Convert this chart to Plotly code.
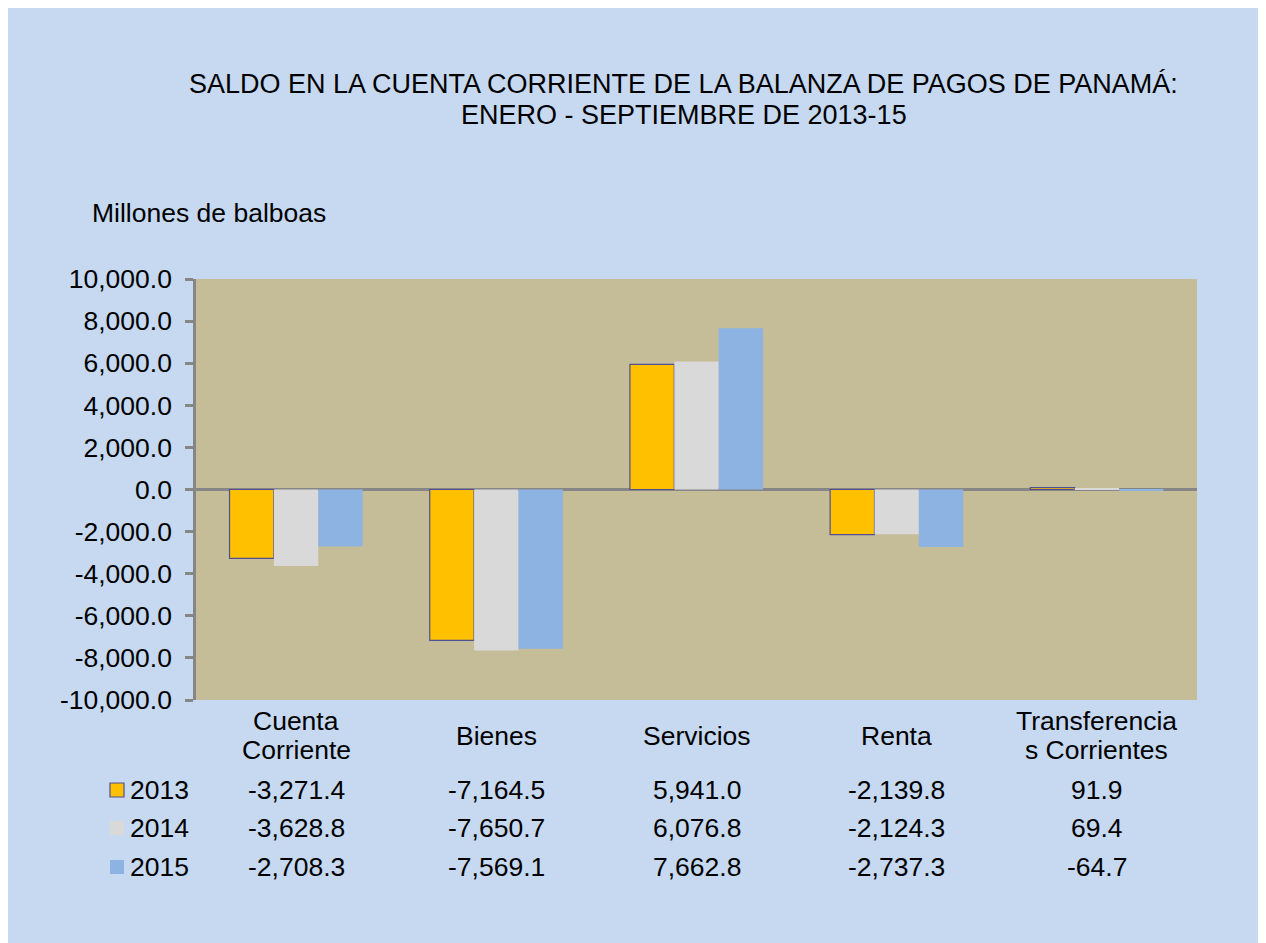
import plotly.graph_objects as go

categories = ["Cuenta Corriente", "Bienes", "Servicios", "Renta", "Transferencias Corrientes"]
category_lines = [["Cuenta", "Corriente"], ["Bienes"], ["Servicios"], ["Renta"], ["Transferencia", "s Corrientes"]]
years = ["2013", "2014", "2015"]
values_2013 = [-3271.4, -7164.5, 5941.0, -2139.8, 91.9]
values_2014 = [-3628.8, -7650.7, 6076.8, -2124.3, 69.4]
values_2015 = [-2708.3, -7569.1, 7662.8, -2737.3, -64.7]
series = [values_2013, values_2014, values_2015]
y_ticks = [-10000, -8000, -6000, -4000, -2000, 0, 2000, 4000, 6000, 8000, 10000]

colors = ["#FFC000", "#D9D9D9", "#8DB3E2"]
outlines = ["#4F4F96", None, None]

FONT = "Liberation Sans, Arial, sans-serif"
FS = 26.5
FS_TITLE = 27
PLOT_H = 421.0
PLOT_W = 1001.0
ML, MT = 188, 271


def px(fx):
    return (fx - ML) / PLOT_W


def py(fy):
    return 1 - (fy - MT) / PLOT_H


fig = go.Figure()
for yr, vals, c, oc in zip(years, series, colors, outlines):
    fig.add_trace(go.Bar(
        name=yr, x=categories, y=vals,
        marker=dict(color=c, line=dict(color=oc or "rgba(0,0,0,0)", width=1.2 if oc else 0)),
        showlegend=False,
    ))

annotations = []
annotations.append(dict(text="SALDO EN LA CUENTA CORRIENTE DE LA BALANZA DE PAGOS DE PANAMÁ:",
                        xref="paper", yref="paper", x=px(675.5), y=py(76),
                        xanchor="center", yanchor="middle", showarrow=False,
                        font=dict(size=FS_TITLE, color="#000000", family=FONT)))
annotations.append(dict(text="ENERO - SEPTIEMBRE DE 2013-15",
                        xref="paper", yref="paper", x=px(675.5), y=py(107),
                        xanchor="center", yanchor="middle", showarrow=False,
                        font=dict(size=FS_TITLE, color="#000000", family=FONT)))
annotations.append(dict(text="Millones de balboas",
                        xref="paper", yref="paper", x=px(82), y=py(205),
                        xanchor="left", yanchor="middle", showarrow=False,
                        font=dict(size=FS, color="#000000", family=FONT)))

for cat, lines in zip(categories, category_lines):
    ys = [728] if len(lines) == 1 else [713, 742]
    for ln, fy in zip(lines, ys):
        annotations.append(dict(text=ln, xref="x", yref="paper", x=cat, y=py(fy),
                                xanchor="center", yanchor="middle", showarrow=False,
                                font=dict(size=FS, color="#000000", family=FONT)))

row_y = [782, 820, 859]
shapes = []
for yr, vals, c, oc, fy in zip(years, series, colors, outlines, row_y):
    ry = py(fy)
    for cat, v in zip(categories, vals):
        annotations.append(dict(text=f"{v:,.1f}", xref="x", yref="paper", x=cat, y=ry,
                                xanchor="center", yanchor="middle", showarrow=False,
                                font=dict(size=FS, color="#000000", family=FONT)))
    annotations.append(dict(text=yr, xref="paper", yref="paper", x=px(120), y=ry,
                            xanchor="left", yanchor="middle", showarrow=False,
                            font=dict(size=FS, color="#000000", family=FONT)))
    shapes.append(dict(type="rect", xref="paper", yref="paper",
                       x0=px(102), x1=px(116),
                       y0=ry - 7 / PLOT_H, y1=ry + 7 / PLOT_H,
                       fillcolor=c,
                       line=dict(color=oc or "rgba(0,0,0,0)", width=1.2 if oc else 0)))

fig.update_layout(
    width=1266, height=943,
    margin=dict(l=ML, r=1266 - ML - 1001, t=MT, b=943 - MT - 421, pad=0),
    paper_bgcolor="#C6D9F1",
    plot_bgcolor="#C4BD97",
    barmode="group", bargap=0.335, bargroupgap=0,
    font=dict(family=FONT, size=FS, color="#000000"),
    annotations=annotations,
    shapes=shapes,
)
fig.update_xaxes(showticklabels=False, showgrid=False, zeroline=False, showline=False, ticks="")
fig.update_yaxes(range=[-10000, 10000], tickmode="array", tickvals=y_ticks,
                 ticktext=[f"{v:,.1f}" for v in y_ticks],
                 showgrid=False, zeroline=True, zerolinecolor="#868686", zerolinewidth=2.5,
                 showline=True, linecolor="#868686", linewidth=2.5,
                 ticks="outside", ticklen=8, tickwidth=2.5, tickcolor="#868686",
                 ticklabelstandoff=8,
                 tickfont=dict(size=FS, color="#000000", family=FONT))

fig.write_html("out.html")
